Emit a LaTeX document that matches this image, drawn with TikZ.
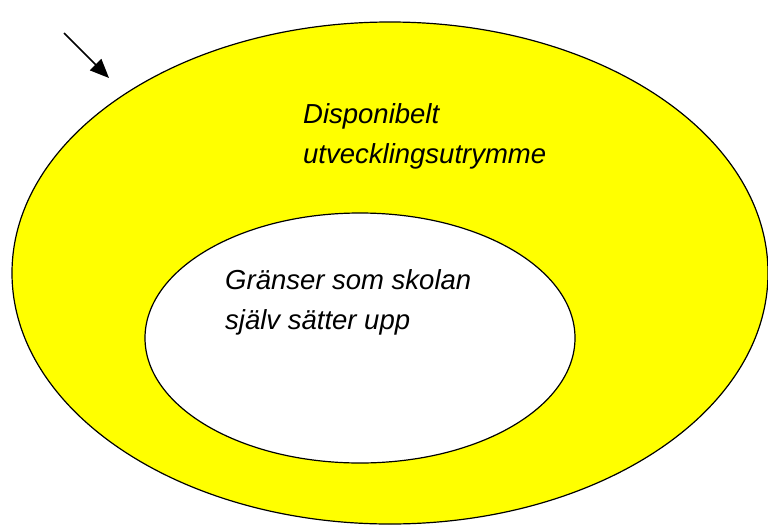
\documentclass[tikz,border=0pt]{standalone}
\usepackage{fontspec}
\setmainfont{Liberation Sans}
\usetikzlibrary{arrows.meta}
\definecolor{gul}{RGB}{255,255,0}
\begin{document}
\begin{tikzpicture}[x=1pt,y=-1pt,
    zon/.style={draw=black,line width=1.2pt},
    etikett/.style={anchor=base west,inner sep=0pt,align=left,
        font=\fontsize{27.5}{40}\selectfont\itshape}]
            \useasboundingbox (0,0) rectangle (768,525);
            % yttre och inre zon
            \draw[zon, fill=gul] (390,273) ellipse [x radius=378, y radius=251];
            \draw[zon, fill=white] (360,338) ellipse [x radius=215, y radius=125];
            % basen är sista raden
            \node[etikett] (utrymme) at (303,163) {Disponibelt\\utvecklingsutrymme};
            \node[etikett] (granser) at (225,329) {Gränser som skolan\\själv sätter upp};
            % pilen
            \coordinate (start) at (64,33);
            \coordinate (spets) at (109,78);
            \draw[line width=1.5pt,-{Triangle[length=19pt,width=16pt]}] (start) -- (spets);
        \end{tikzpicture}
\end{document}
